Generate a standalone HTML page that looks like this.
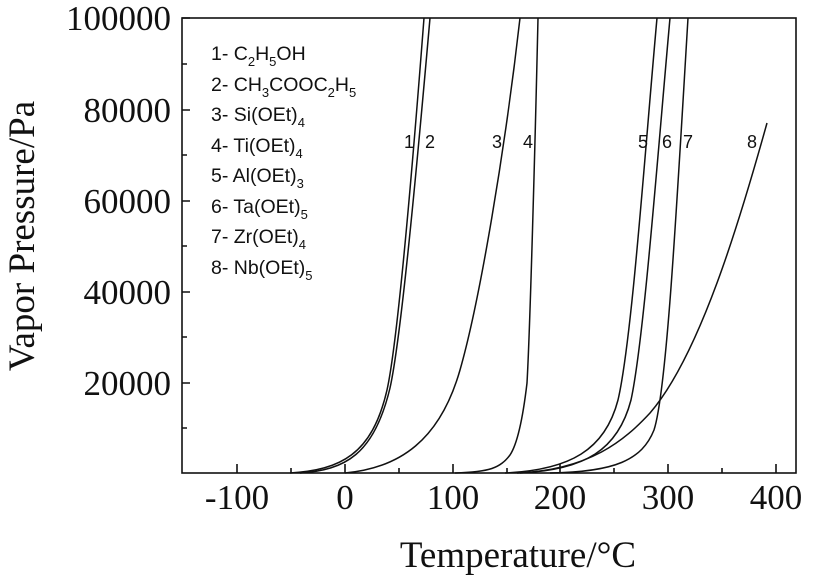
<!DOCTYPE html>
<html><head><meta charset="utf-8"><style>
body{margin:0;background:#fff}
svg{display:block}
.t{font-family:"Liberation Serif",serif;font-size:35px;fill:#111}
.a{font-family:"Liberation Serif",serif;font-size:37px;fill:#111}
.l{font-family:"Liberation Sans",sans-serif;font-size:19.5px;fill:#111}
.n{font-family:"Liberation Sans",sans-serif;font-size:18px;fill:#111}
</style></head><body>
<svg width="815" height="575" viewBox="0 0 815 575">
<g stroke="#111" stroke-width="1.6" fill="none">
<rect x="182" y="18" width="614" height="455"/>
<path d="M237,473v-9M345,473v-9M453,473v-9M560,473v-9M668,473v-9M776,473v-9M291,473v-5M399,473v-5M507,473v-5M614,473v-5M722,473v-5"/>
<path d="M182,18h8M182,110h8M182,201h8M182,292h8M182,383h8M182,64h5M182,155h5M182,246h5M182,337h5M182,428h5"/>
</g>
<g stroke="#111" stroke-width="1.5" fill="none">
<path d="M290,473 C340,470 372,455 387,390 C397,345 410,200 424,18"/>
<path d="M300,473 C345,470 374,455 390,388 C400,343 414,200 430,18"/>
<path d="M345,473 C400,468 440,440 460,370 C480,300 505,150 520,18"/>
<path d="M455,473 C490,472 500,468 510,455 C520,440 525,400 527,383 C530,330 535,150 538,18"/>
<path d="M505,473 C570,470 605,450 618,400 C632,340 645,150 657,18"/>
<path d="M520,473 C585,470 618,450 631,400 C644,340 658,150 670,18"/>
<path d="M550,473 C615,472 642,460 654,430 C667,390 677,200 688,18"/>
<path d="M517,473 C590,470 625,440 650,413 C700,355 740,220 767,123"/>
</g>
<g class="n">
<text x="404" y="148">1</text><text x="425" y="148">2</text>
<text x="492" y="148">3</text><text x="523" y="148">4</text>
<text x="638" y="148">5</text><text x="662" y="148">6</text>
<text x="683" y="148">7</text><text x="747" y="148">8</text>
</g>
<g class="l">
<text x="211" y="60">1- C<tspan font-size="13" dy="6">2</tspan><tspan dy="-6">H</tspan><tspan font-size="13" dy="6">5</tspan><tspan dy="-6">OH</tspan></text>
<text x="211" y="91">2- CH<tspan font-size="13" dy="6">3</tspan><tspan dy="-6">COOC</tspan><tspan font-size="13" dy="6">2</tspan><tspan dy="-6">H</tspan><tspan font-size="13" dy="6">5</tspan></text>
<text x="211" y="121">3- Si(OEt)<tspan font-size="13" dy="6">4</tspan></text>
<text x="211" y="152">4- Ti(OEt)<tspan font-size="13" dy="6">4</tspan></text>
<text x="211" y="182">5- Al(OEt)<tspan font-size="13" dy="6">3</tspan></text>
<text x="211" y="213">6- Ta(OEt)<tspan font-size="13" dy="6">5</tspan></text>
<text x="211" y="243">7- Zr(OEt)<tspan font-size="13" dy="6">4</tspan></text>
<text x="211" y="274">8- Nb(OEt)<tspan font-size="13" dy="6">5</tspan></text>
</g>
<g class="t" text-anchor="end">
<text x="171" y="30">100000</text>
<text x="171" y="122">80000</text>
<text x="171" y="213">60000</text>
<text x="171" y="304">40000</text>
<text x="171" y="395">20000</text>
</g>
<g class="t" text-anchor="middle">
<text x="237" y="509">-100</text>
<text x="345" y="509">0</text>
<text x="453" y="509">100</text>
<text x="560" y="509">200</text>
<text x="668" y="509">300</text>
<text x="776" y="509">400</text>
</g>
<g class="a" text-anchor="middle">
<text x="518" y="567">Temperature/°C</text>
<text transform="translate(34,236) rotate(-90)">Vapor Pressure/Pa</text>
</g>
</svg>
</body></html>
